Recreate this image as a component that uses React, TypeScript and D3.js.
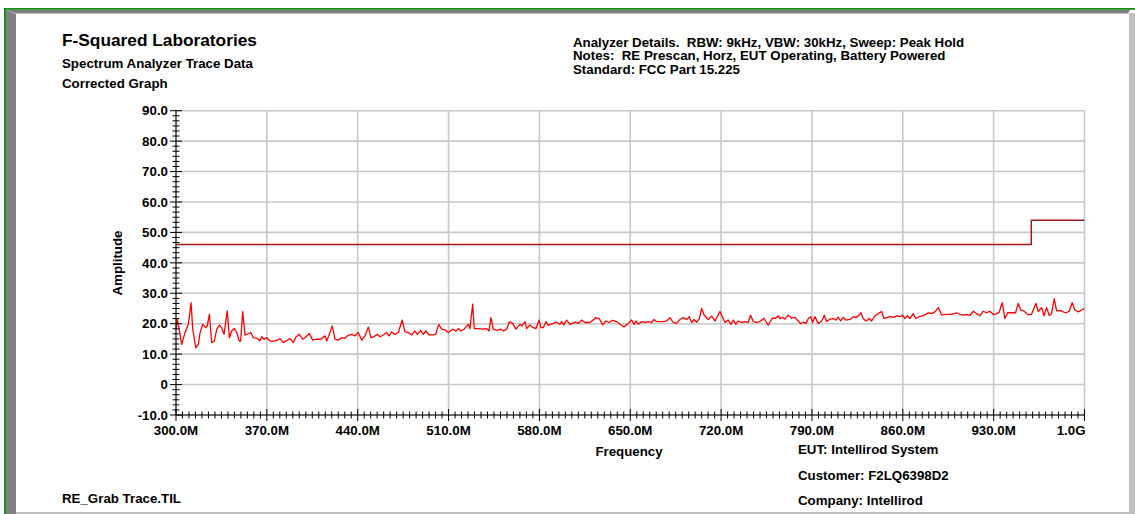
import React from "react";
import * as d3 from "d3";

const W = 1135;
const H = 514;

const xTickLabels = ["300.0M", "370.0M", "440.0M", "510.0M", "580.0M", "650.0M", "720.0M", "790.0M", "860.0M", "930.0M", "1.0G"];
const xTickValues = [300, 370, 440, 510, 580, 650, 720, 790, 860, 930, 1000];
const yTickValues = [-10, 0, 10, 20, 30, 40, 50, 60, 70, 80, 90];
const yTickLabels = ["-10.0", "0", "10.0", "20.0", "30.0", "40.0", "50.0", "60.0", "70.0", "80.0", "90.0"];

const limitFreq = [300, 959, 1000];
const limitAmp = [46, 54, 54];

const traceFreq = [
  300, 301.0, 304.4, 306.9, 309.5, 311.6, 312.9, 315.2, 317.2, 318.5, 320.6, 322.9, 324.1, 325.7, 327.5, 329.5,
  331.4, 333.4, 335.2, 337.0, 339.5, 341.1, 342.9, 344.9, 346.8, 348.8, 349.8, 351.4, 353.2, 355.7, 357.6, 359.6,
  362.6, 364.7, 366.0, 367.8, 369.9, 372.4, 375.0, 377.6, 380.1, 382.7, 385.3, 387.8, 390.4, 392.4, 395.0, 397.6,
  399.4, 402.7, 405.3, 408.4, 411.5, 414.8, 416.1, 418.1, 420.4, 422.5, 425.0, 427.7, 430.2, 432.7, 435.4, 437.9,
  440.4, 443.1, 445.6, 448.2, 450.2, 452.5, 455.1, 457.2, 459.7, 462.3, 464.1, 466.2, 468.7, 471.3, 474.3, 476.4,
  479.0, 481.6, 484.1, 485.9, 488.5, 490.5, 492.6, 495.1, 498.2, 500.1, 502.4, 504.7, 507.2, 509.8, 513.2, 515.7,
  517.8, 519.6, 521.9, 525.2, 526.5, 528.6, 529.8, 532.9, 535.5, 539.4, 541.1, 542.7, 544.4, 547.5, 550.2, 552.2,
  554.8, 556.8, 559.4, 561.9, 565.0, 566.6, 568.9, 570.2, 572.7, 575.3, 577.4, 579.7, 581.2, 583.0, 585.1, 586.8,
  590.7, 593.3, 595.8, 597.1, 598.9, 601.0, 603.5, 607.4, 609.9, 612.6, 615.1, 619.0, 623.6, 626.1, 628.7, 631.3,
  633.8, 636.4, 639.5, 642.1, 645.1, 648.5, 651.1, 652.8, 654.4, 656.2, 658.8, 661.3, 663.9, 666.5, 668.3, 670.3,
  672.9, 675.4, 678.0, 680.6, 683.1, 685.7, 688.3, 690.8, 693.4, 695.4, 697.3, 699.1, 701.2, 703.2, 705.0, 707.0,
  710.1, 712.7, 715.3, 719.1, 723.0, 725.5, 727.6, 729.4, 731.4, 733.2, 735.8, 738.4, 740.9, 742.7, 744.8, 747.4,
  749.9, 753.0, 756.3, 759.4, 762.0, 764.0, 765.3, 767.4, 769.2, 771.7, 774.3, 776.9, 779.4, 781.3, 783.3, 785.4,
  787.2, 789.0, 790.5, 792.3, 794.8, 797.5, 799.5, 801.3, 803.9, 806.4, 808.5, 810.2, 812.1, 814.1, 816.2, 819.3,
  821.8, 823.9, 825.7, 827.7, 829.5, 831.6, 834.1, 836.0, 838.5, 841.1, 843.7, 845.5, 848.0, 850.6, 853.2, 855.2,
  857.8, 859.9, 861.6, 863.4, 865.5, 868.0, 869.9, 872.6, 875.3, 877.0, 879.6, 882.2, 884.8, 887.3, 889.9, 893.8,
  897.6, 901.5, 904.0, 906.6, 909.2, 911.7, 914.3, 916.9, 919.4, 922.0, 924.6, 927.1, 929.7, 932.3, 934.3, 936.6,
  938.7, 940.8, 943.8, 946.9, 948.9, 950.8, 953.3, 956.6, 959.2, 962.6, 964.3, 967.0, 968.7, 970.8, 972.8, 974.6,
  976.7, 978.5, 981.0, 983.1, 985.7, 988.2, 990.5, 992.6, 995.2, 997.8, 1000
];

const traceAmp = [
  18.2, 21.7, 13.2, 17.0, 19.8, 26.9, 18.2, 12.1, 13.2, 17.0, 19.8, 18.7, 19.3, 23.1, 13.8, 14.3,
  18.2, 19.5, 18.7, 16.5, 24.2, 15.4, 17.6, 18.4, 17.1, 14.3, 14.3, 24.0, 16.2, 16.7, 17.1, 15.4,
  15.2, 14.3, 15.7, 14.9, 15.4, 14.3, 14.3, 14.5, 15.1, 13.8, 14.5, 15.1, 13.8, 15.6, 16.5, 14.9,
  15.4, 16.8, 14.6, 14.9, 14.9, 16.0, 14.3, 16.5, 19.3, 14.9, 14.6, 15.4, 15.2, 16.2, 16.5, 16.0,
  17.1, 14.6, 16.0, 18.9, 15.4, 15.7, 16.5, 15.7, 16.3, 17.1, 16.0, 17.3, 16.5, 17.1, 21.2, 17.3,
  17.1, 16.3, 17.6, 16.5, 17.8, 16.5, 17.6, 16.3, 16.3, 16.5, 19.8, 18.2, 18.0, 17.1, 18.2, 17.6,
  18.4, 17.6, 18.2, 19.8, 18.4, 26.4, 18.4, 18.4, 18.2, 18.4, 17.6, 22.0, 18.2, 17.8, 18.2, 17.6,
  18.2, 20.6, 20.1, 18.2, 19.8, 19.3, 20.7, 18.4, 19.6, 18.7, 18.4, 21.2, 18.7, 18.7, 20.7, 19.5,
  20.1, 20.5, 19.8, 20.7, 19.6, 21.2, 19.8, 20.5, 20.1, 21.2, 20.4, 20.4, 22.0, 21.7, 19.6, 20.9,
  20.4, 21.1, 20.7, 19.8, 18.9, 20.1, 21.2, 19.8, 20.9, 19.8, 20.7, 20.4, 20.7, 20.4, 21.4, 20.7,
  20.7, 20.7, 20.9, 22.0, 20.4, 20.1, 21.4, 22.0, 21.4, 22.3, 20.4, 21.4, 20.5, 21.7, 25.0, 22.8,
  21.4, 22.5, 20.9, 24.0, 20.4, 21.2, 19.8, 21.2, 19.8, 20.9, 20.4, 20.7, 20.4, 22.8, 20.7, 20.4,
  20.7, 21.8, 19.5, 21.8, 21.8, 22.6, 21.7, 22.1, 21.5, 22.8, 21.8, 22.1, 20.9, 20.0, 20.5, 20.1,
  21.7, 22.3, 20.4, 22.3, 20.1, 20.9, 22.8, 20.7, 21.5, 21.7, 21.2, 22.2, 20.9, 22.1, 21.2, 21.4,
  22.3, 22.0, 22.6, 23.6, 21.7, 20.9, 21.7, 20.9, 22.6, 23.3, 24.0, 21.7, 22.1, 22.3, 22.1, 22.6,
  22.3, 22.8, 21.7, 22.6, 21.7, 23.3, 21.7, 22.3, 22.6, 22.9, 23.6, 23.3, 23.9, 25.3, 22.9, 23.1,
  23.1, 23.6, 23.1, 22.8, 23.1, 22.7, 24.1, 23.3, 22.6, 24.1, 23.6, 24.1, 23.0, 23.3, 23.8, 26.9,
  21.7, 23.6, 23.6, 23.6, 26.7, 24.5, 24.2, 22.9, 23.1, 26.7, 24.0, 25.3, 22.6, 25.3, 22.7, 23.3,
  28.2, 24.2, 24.4, 24.0, 23.6, 24.1, 26.9, 24.5, 23.9, 24.5, 25.0
];

const FONT = "Arial, 'Liberation Sans', Helvetica, sans-serif";

export default function App() {
  const x = d3.scaleLinear().domain([300, 1000]).range([176, 1084.5]);
  const y = d3.scaleLinear().domain([-10, 90]).range([415, 110.7]);

  const traceLine = d3
    .line<number>()
    .x((_, i) => x(traceFreq[i]))
    .y((d) => y(d));

  const limitLine = d3
    .line<number>()
    .x((_, i) => x(limitFreq[i]))
    .y((d) => y(d))
    .curve(d3.curveStepAfter);

  const xMinor = d3.range(300, 1000.1, 5).filter((v) => (v - 300) % 70 !== 0);
  const yMinor: number[] = [];
  for (let k = 0; k < 10; k++) {
    for (let j = 1; j < 6; j++) yMinor.push(-10 + k * 10 + (j * 10) / 6);
  }

  const x0 = x(300);
  const y0 = y(-10);

  return (
    <svg
      width={W}
      height={H}
      style={{ position: "absolute", left: 0, top: 0, display: "block", background: "#ffffff" }}
      fontFamily={FONT}
    >
      {/* frame */}
      <rect x={0} y={0} width={W} height={H} fill="#ffffff" />
      <polygon points={`6,10 1130,10 1128,13.5 16,13.5`} fill="#808080" />
      <polygon points={`6,10 16,14 16,${H} 6,${H}`} fill="#808080" />
      <rect x={1129} y={13} width={6} height={H - 13} fill="#c0c0c0" />
      <rect x={16} y={512} width={W - 16} height={2} fill="#c0c0c0" />
      <rect x={4} y={8} width={2} height={H - 8} fill="#1a8c1a" />
      <rect x={4} y={8} width={W - 4} height={1.8} fill="#1a8c1a" />

      {/* header text */}
      <g fontWeight="bold" fill="#000">
        <text x={62} y={46} fontSize={17.3}>F-Squared Laboratories</text>
        <text x={62} y={68} fontSize={13.3}>Spectrum Analyzer Trace Data</text>
        <text x={62} y={88} fontSize={13.3}>Corrected Graph</text>
        <text x={573} y={46.5} fontSize={13.3} style={{ whiteSpace: "pre" }}>
          {"Analyzer Details.  RBW: 9kHz, VBW: 30kHz, Sweep: Peak Hold"}
        </text>
        <text x={573} y={60} fontSize={13.3} style={{ whiteSpace: "pre" }}>
          {"Notes:  RE Prescan, Horz, EUT Operating, Battery Powered"}
        </text>
        <text x={573} y={73.5} fontSize={13.3}>Standard: FCC Part 15.225</text>
      </g>

      {/* grid */}
      <g stroke="#c8c8c8" strokeWidth={1.6}>
        {yTickValues.map((v) => (
          <line key={"gy" + v} x1={x0} x2={x(1000)} y1={y(v)} y2={y(v)} />
        ))}
        {xTickValues.map((v) => (
          <line key={"gx" + v} x1={x(v)} x2={x(v)} y1={y(90)} y2={y0} />
        ))}
      </g>

      {/* limit line */}
      <path d={limitLine(limitAmp) || ""} fill="none" stroke="#a01818" strokeWidth={1.5} />

      {/* trace */}
      <path d={traceLine(traceAmp) || ""} fill="none" stroke="#ff0000" strokeWidth={1.3} strokeLinejoin="round" />

      {/* axes */}
      <g stroke="#000" strokeWidth={1}>
        <line x1={x0} x2={x0} y1={y(90)} y2={y0} />
        <line x1={x0} x2={x(1000)} y1={y0} y2={y0} />
        {yTickValues.map((v) => (
          <line key={"ty" + v} x1={x0 - 6} x2={x0 + 6} y1={y(v)} y2={y(v)} />
        ))}
        {yMinor.map((v, i) => (
          <line key={"my" + i} x1={x0 - 3.5} x2={x0 + 3.5} y1={y(v)} y2={y(v)} />
        ))}
        {xTickValues.map((v) => (
          <line key={"tx" + v} x1={x(v)} x2={x(v)} y1={y0 - 6} y2={y0 + 6} />
        ))}
        {xMinor.map((v, i) => (
          <line key={"mx" + i} x1={x(v)} x2={x(v)} y1={y0 - 3.5} y2={y0 + 3.5} />
        ))}
      </g>

      {/* tick labels */}
      <g fontWeight="bold" fontSize={13.3} fill="#000">
        {yTickValues.map((v, i) => (
          <text key={"ly" + v} x={168} y={y(v)} dy="0.35em" textAnchor="end">
            {yTickLabels[i]}
          </text>
        ))}
        {xTickValues.map((v, i) => (
          <text
            key={"lx" + v}
            x={i === xTickValues.length - 1 ? x(v) + 1 : x(v)}
            y={435}
            textAnchor={i === xTickValues.length - 1 ? "end" : "middle"}
          >
            {xTickLabels[i]}
          </text>
        ))}
        <text transform={`translate(122,263) rotate(-90)`} textAnchor="middle">Amplitude</text>
        <text x={629} y={456} textAnchor="middle">Frequency</text>
        <text x={798} y={454}>EUT: Intellirod System</text>
        <text x={798} y={480}>Customer: F2LQ6398D2</text>
        <text x={798} y={505}>Company: Intellirod</text>
        <text x={62} y={503}>RE_Grab Trace.TIL</text>
      </g>
    </svg>
  );
}
